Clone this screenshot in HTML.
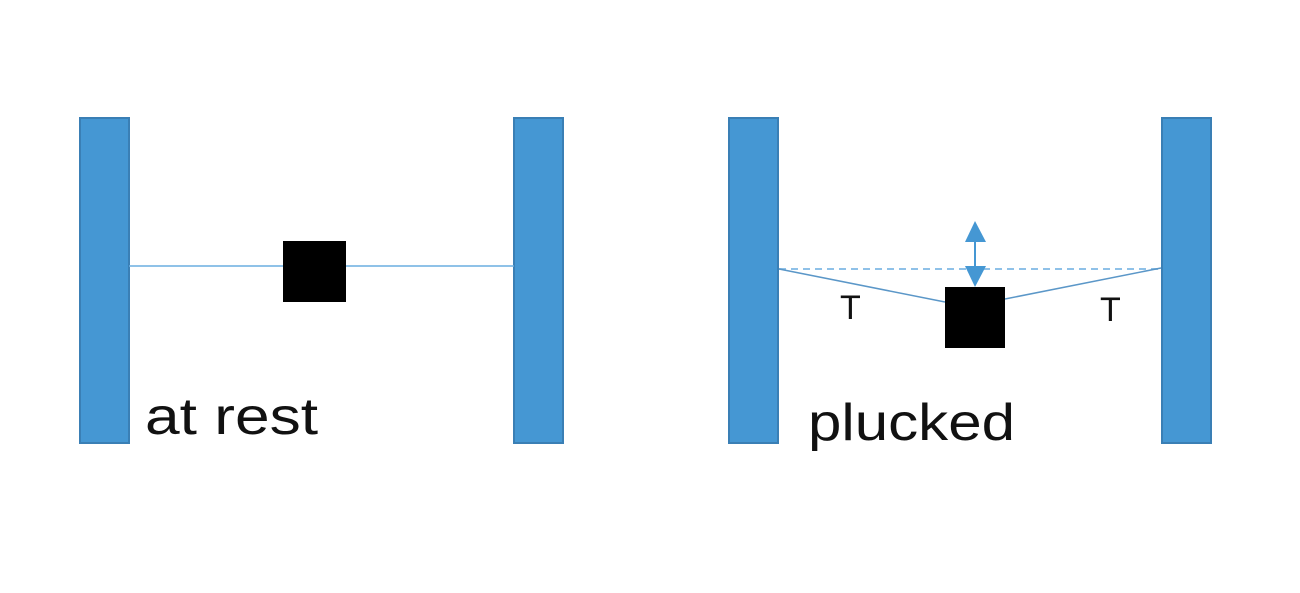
<!DOCTYPE html>
<html><head><style>body{margin:0;background:#fff}</style></head><body>
<svg width="1300" height="588" xmlns="http://www.w3.org/2000/svg" font-family="Liberation Sans, sans-serif">
<g fill="#4597d3" stroke="#3a7fb5" stroke-width="2">
<rect x="80" y="118" width="49" height="325"/>
<rect x="514" y="118" width="49" height="325"/>
<rect x="729" y="118" width="49" height="325"/>
<rect x="1162" y="118" width="49" height="325"/>
</g>
<line x1="129" y1="266" x2="514" y2="266" stroke="#6aaee0" stroke-width="1.5"/>
<rect x="283" y="241" width="63" height="61" fill="#000"/>
<text x="145" y="434" font-size="52" fill="#111" textLength="173" lengthAdjust="spacingAndGlyphs">at rest</text>
<line x1="779" y1="269" x2="1161" y2="269" stroke="#8fc1e8" stroke-width="2" stroke-dasharray="7,5"/>
<line x1="779" y1="269" x2="945" y2="302" stroke="#5b97c8" stroke-width="1.5"/>
<line x1="1005" y1="299" x2="1161" y2="268" stroke="#5b97c8" stroke-width="1.5"/>
<rect x="945" y="287" width="60" height="61" fill="#000"/>
<line x1="975" y1="235" x2="975" y2="275" stroke="#4597d3" stroke-width="2"/>
<polygon points="975,221 965,242 986,242" fill="#4597d3"/>
<polygon points="975,287 965,266 986,266" fill="#4597d3"/>
<text x="808" y="440" font-size="52" fill="#111" textLength="207" lengthAdjust="spacingAndGlyphs">plucked</text>
<text x="840" y="319" font-size="34" fill="#111">T</text>
<text x="1100" y="321" font-size="34" fill="#111">T</text>
</svg>
</body></html>
